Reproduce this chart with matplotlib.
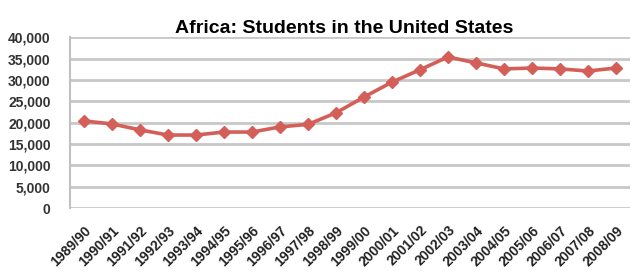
import matplotlib
matplotlib.use('Agg')
import matplotlib.pyplot as plt
from matplotlib.ticker import FuncFormatter

years = ['1989/90', '1990/91', '1991/92', '1992/93', '1993/94', '1994/95',
         '1995/96', '1996/97', '1997/98', '1998/99', '1999/00', '2000/01',
         '2001/02', '2002/03', '2003/04', '2004/05', '2005/06', '2006/07',
         '2007/08', '2008/09']
students = [20400, 19700, 18300, 17100, 17100, 17800, 17800, 19000, 19600,
            22300, 26000, 29500, 32400, 35400, 34000, 32600, 32800, 32600,
            32100, 32800]
yticks = list(range(0, 40001, 5000))

plt.rcParams['font.family'] = ['Liberation Sans', 'DejaVu Sans']

fig = plt.figure(figsize=(6.31, 2.71), dpi=100)
ax = fig.add_axes([70 / 631, 1 - 208 / 271, 560 / 631, (208 - 37.3) / 271])

x = list(range(len(years)))
ax.plot(x, students, color='#d35f58', lw=2.6, marker='D', ms=6,
        mec='#d35f58', mfc='#d35f58', zorder=3)

ax.set_xlim(-0.5, len(years) - 0.5)
ax.set_ylim(0, 40000)
ax.set_yticks(yticks)
ax.yaxis.set_major_formatter(FuncFormatter(lambda v, p: '{:,.0f}'.format(v)))
ax.grid(axis='y', color='#c8c8c8', lw=2)
ax.set_axisbelow(True)

for s in ['top', 'right', 'bottom']:
    ax.spines[s].set_visible(False)
ax.spines['left'].set_color('#c0c0c0')
ax.spines['left'].set_linewidth(1.5)

ax.set_xticks(x)
ax.set_xticklabels(years, rotation=45, ha='right', rotation_mode='anchor',
                   fontsize=10, fontweight='bold', color='#222222')
ax.tick_params(axis='x', length=0, pad=11)
ax.tick_params(axis='y', length=0, pad=14, labelsize=10, labelcolor='#333333')
for lab in ax.get_yticklabels():
    lab.set_fontweight('bold')

ax.set_title('Africa: Students in the United States', fontsize=14,
             fontweight='bold', pad=3, x=0.49)

fig.savefig('out.png', dpi=100)
